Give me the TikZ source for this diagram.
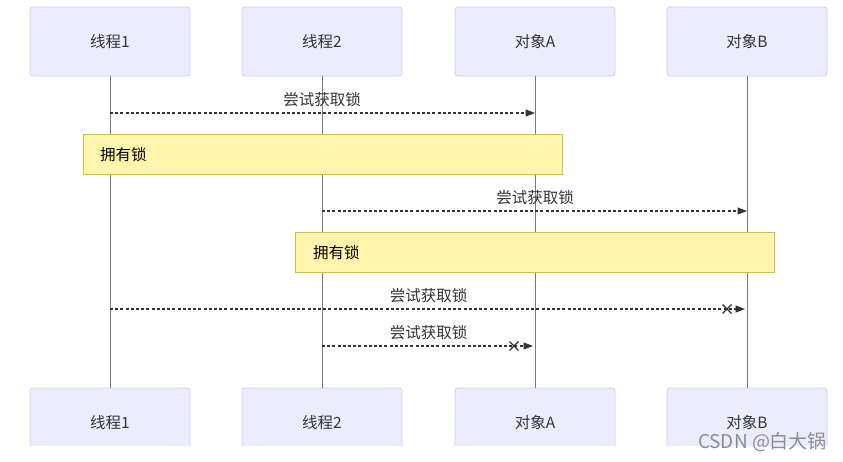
\documentclass[tikz,border=0pt]{standalone}
\usepackage{fontspec}
\setmainfont{Noto Sans CJK SC}
\usetikzlibrary{arrows.meta,calc}
\definecolor{actorfill}{HTML}{ECECFF}
\definecolor{actorline}{HTML}{D4CEF3}
\definecolor{notefill}{HTML}{FFF5AD}
\definecolor{noteline}{HTML}{C8C050}
\definecolor{lifecol}{HTML}{7A7A7A}
\definecolor{msgcol}{HTML}{333333}
\definecolor{txt}{HTML}{333333}
\tikzset{
  actor/.style={draw=actorline, fill=actorfill, line width=0.9pt, rounded corners=3pt,
    minimum width=160pt, minimum height=69pt, inner sep=0pt, text=txt,
    font=\fontsize{15.5}{18}\selectfont},
  lifeline/.style={draw=lifecol, line width=1pt},
  notebox/.style={draw=noteline, fill=notefill, line width=0.8pt, inner sep=0pt,
    minimum height=40pt, text=black, font=\fontsize{15.5}{18}\selectfont},
  notetext/.style={anchor=west, inner sep=0pt, text=black, font=\fontsize{15.5}{18}\selectfont},
  msg/.style={draw=msgcol, line width=1.1pt, dash pattern=on 3pt off 2.2pt,
    -{Triangle[length=9.5pt,width=7pt]}},
  msglabel/.style={text=txt, inner sep=0pt, font=\fontsize{15.5}{18}\selectfont},
  crossmark/.style={draw=msgcol, line width=1.2pt},
}
\begin{document}
\begin{tikzpicture}[x=1pt,y=-1pt]
\useasboundingbox[fill=white] (0,0) rectangle (843,461);
% top actors
\node[actor] (t1) at (110,41.5) {线程1};
\node[actor] (t2) at (322,41.5) {线程2};
\node[actor] (oA) at (535,41.5) {对象A};
\node[actor] (oB) at (747,41.5) {对象B};
% bottom actors (cut off by the screenshot)
\begin{scope}
\clip (0,0) rectangle (843,445.5);
\node[actor] (b1) at (110,422.5) {线程1};
\node[actor] (b2) at (322,422.5) {线程2};
\node[actor] (bA) at (535,422.5) {对象A};
\node[actor] (bB) at (747,422.5) {对象B};
\end{scope}
% lifelines
\draw[lifeline] (t1.south) -- (b1.north);
\draw[lifeline] (t2.south) -- (b2.north);
\draw[lifeline] (oA.south) -- (bA.north);
\draw[lifeline] (oB.south) -- (bB.north);
% row coordinates
\coordinate (r1) at (0,113);
\coordinate (r2) at (0,211);
\coordinate (r3) at (0,309);
\coordinate (r4) at (0,346);
% message 1
\draw[msg] (t1.south |- r1) -- (oA.south |- r1);
\node[msglabel] (l1) at (322,100) {尝试获取锁};
% note 1
\node[notebox, minimum width=479pt] (n1) at (322.5,154) {};
\node[notetext] (n1t) at (100,155) {拥有锁};
% message 2
\draw[msg] (t2.south |- r2) -- (oB.south |- r2);
\node[msglabel] (l2) at (535,198) {尝试获取锁};
% note 2
\node[notebox, minimum width=479pt] (n2) at (534.5,252) {};
\node[notetext] (n2t) at (313,253) {拥有锁};
% message 3 (failed)
\coordinate (e3) at ($(oB.south |- r3)+(-2,0)$);
\draw[msg] (t1.south |- r3) -- (e3);
\coordinate (x3) at ($(oB.south |- r3)+(-20,0)$);
\draw[crossmark] ($(x3)+(-4.5,-4.5)$) -- ($(x3)+(4.5,4.5)$);
\draw[crossmark] ($(x3)+(-4.5,4.5)$) -- ($(x3)+(4.5,-4.5)$);
\node[msglabel] (l3) at (428.5,296) {尝试获取锁};
% message 4 (failed)
\coordinate (e4) at ($(oA.south |- r4)+(-2,0)$);
\draw[msg] (t2.south |- r4) -- (e4);
\coordinate (x4) at ($(oA.south |- r4)+(-21,0)$);
\draw[crossmark] ($(x4)+(-4.5,-4.5)$) -- ($(x4)+(4.5,4.5)$);
\draw[crossmark] ($(x4)+(-4.5,4.5)$) -- ($(x4)+(4.5,-4.5)$);
\node[msglabel] (l4) at (428.5,333) {尝试获取锁};
% screenshot watermark
\node[text=black!45, inner sep=0pt, font=\fontsize{19}{21}\selectfont] (wm) at (762.5,442) {CSDN @白大锅};
\end{tikzpicture}
\end{document}
